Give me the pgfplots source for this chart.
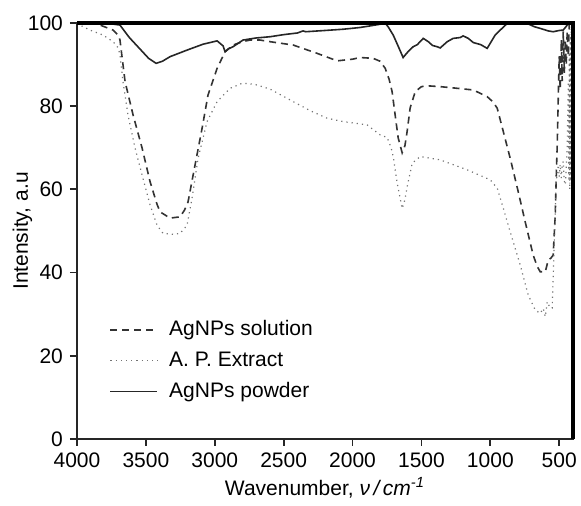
\documentclass[border=0pt]{standalone}
\usepackage{pgfplots}
\pgfplotsset{compat=1.18}
\usepackage{fontspec}
\setmainfont{Liberation Sans}
\begin{document}
\begin{tikzpicture}
\path[use as bounding box] (-38.5pt,-33.5pt) rectangle (252pt,219.5pt);
\begin{axis}[
  at={(0,0)}, anchor=south west,
  scale only axis, width=248pt, height=208pt,
  x dir=reverse, xmin=400, xmax=4000, ymin=0, ymax=100,
  xtick={500,1000,...,4000}, ytick={0,20,...,100},
  tick align=outside, xtick pos=bottom, ytick pos=left, major tick length=3.5pt,
  axis line style={line width=0.9pt, black!85},
  every tick/.style={line width=0.9pt, black!85},
  /pgf/number format/assume math mode=true,
  /pgf/number format/1000 sep={},
  tick label style={font=\fontsize{10.5}{12}\selectfont},
  label style={font=\fontsize{10.5}{12}\selectfont},
  xlabel={Wavenumber, \textit{ν\,/\,cm}\textsuperscript{\textit{-1}}},
  ylabel={Intensity, a.u},
  xlabel style={yshift=2pt},
  ylabel style={yshift=-9pt},
  legend style={draw=none, fill=none, at={(rel axis cs:0.065,0.295)}, anchor=north west,
    font=\fontsize{10.5}{12}\selectfont, row sep=2.5pt, inner sep=0pt},
  legend cell align=left,
  legend image code/.code={\draw[#1] (0pt,0pt) -- (23.5pt,0pt); \path (27pt,0pt);},
]
\addplot[black!80, line width=0.8pt, dash pattern=on 3.5pt off 2.5pt] coordinates {
(4000,100)(3900,100)(3833,99.5)(3738,98.3)(3700,97)(3688,95.9)(3670,91)(3651,85.9)(3593,77.9)(3528,70)(3470,61.9)(3420,56.5)(3397,54.6)(3325,53.1)(3252,53.4)(3220,55)(3194,57)(3143,65.9)(3092,74.7)(3049,82.7)(2983,89.1)(2925,93.1)(2867,94.7)(2800,95.5)(2744,95.9)(2671,95.9)(2598,95.5)(2431,94.7)(2257,92.7)(2112,90.9)(2000,91.3)(1945,91.7)(1850,91.5)(1800,90.8)(1763,89.1)(1735,86.5)(1713,83.5)(1691,77.9)(1669,72.4)(1640,68.8)(1620,70.5)(1604,73.9)(1582,79.6)(1545,83.5)(1500,84.7)(1458,84.9)(1364,84.7)(1270,84.4)(1124,83.9)(1023,82.3)(980,81)(950,79.5)(906,73.9)(856,67.5)(798,59.5)(747,52.2)(689,44.2)(660,41.5)(638,40.2)(601,40.2)(580,43)(560,43.5)(544,44.2)(535,50)(529,53.8)(520,65)(515,70)(507,82)(500,92)(493,84)(485,96)(478,86)(471,98)(463,88)(456,96)(449,90)(442,98)(434,92)(427,100)(400,100)
};
\addlegendentry{AgNPs solution}
\addplot[black!55, line width=0.6pt, dotted] coordinates {
(4000,99.9)(3950,99)(3906,98.3)(3811,97.1)(3738,95.5)(3700,94)(3688,92.3)(3666,85.9)(3630,77.9)(3579,70)(3528,63.5)(3470,56.3)(3419,51.4)(3375,49.4)(3300,49.2)(3252,49.4)(3201,51.4)(3165,57.9)(3121,67.5)(3056,76.3)(2983,81.1)(2889,84.3)(2802,85.5)(2750,85.4)(2693,85.1)(2598,84.1)(2431,81.1)(2300,78.8)(2184,77.1)(2068,76.3)(1894,75.5)(1800,73.1)(1749,72.5)(1720,70)(1705,67.9)(1676,61.5)(1640,55.4)(1620,57.5)(1604,60.6)(1567,66.3)(1509,67.9)(1364,67.1)(1168,64.7)(1001,62.3)(950,60.3)(906,55.5)(856,49.8)(783,41.8)(725,34.6)(674,31)(638,30.2)(616,31.4)(601,29.4)(587,33)(566,31.5)(551,31.5)(537,45.9)(522,61.9)(507,65.9)(500,63)(493,66)(485,62.7)(478,66)(471,66.7)(463,62)(456,61.1)(449,65)(442,70)(434,85.9)(430,62)(427,93)(423,60)(420,97)(416,62)(413,100)(410,65)(405,98)(400,100)
};
\addlegendentry{A. P. Extract}
\addplot[black!85, line width=0.8pt] coordinates {
(4000,100)(3850,100)(3750,99.8)(3688,99.5)(3620,96.5)(3550,94)(3480,91.5)(3426,90.3)(3380,90.8)(3325,91.9)(3200,93.5)(3085,94.9)(2983,95.7)(2940,94.5)(2925,93.1)(2900,93.8)(2867,94.3)(2795,95.9)(2700,96.4)(2598,96.7)(2500,97.2)(2400,97.6)(2359,98.1)(2340,97.9)(2200,98.2)(2068,98.5)(1950,98.9)(1872,99.3)(1800,99.7)(1763,100)(1740,99)(1705,97.1)(1670,94.5)(1633,91.7)(1600,93)(1560,94.3)(1530,94.8)(1487,96.3)(1450,95.5)(1420,94.6)(1386,94.3)(1364,94)(1313,95.5)(1270,96.3)(1219,96.5)(1197,96.9)(1160,96.3)(1124,95.3)(1070,94.8)(1023,93.9)(965,97.1)(928,98.3)(877,99.9)(800,99.9)(733,99.9)(680,99.1)(638,98.7)(580,98.1)(544,97.9)(500,98.2)(471,98.3)(442,99.5)(420,100)(400,100)
};
\addlegendentry{AgNPs powder}
\end{axis}
\draw[line width=1.8pt, black] (0pt,208pt) -- (248pt,208pt) -- (248pt,0pt);
\end{tikzpicture}
\end{document}
